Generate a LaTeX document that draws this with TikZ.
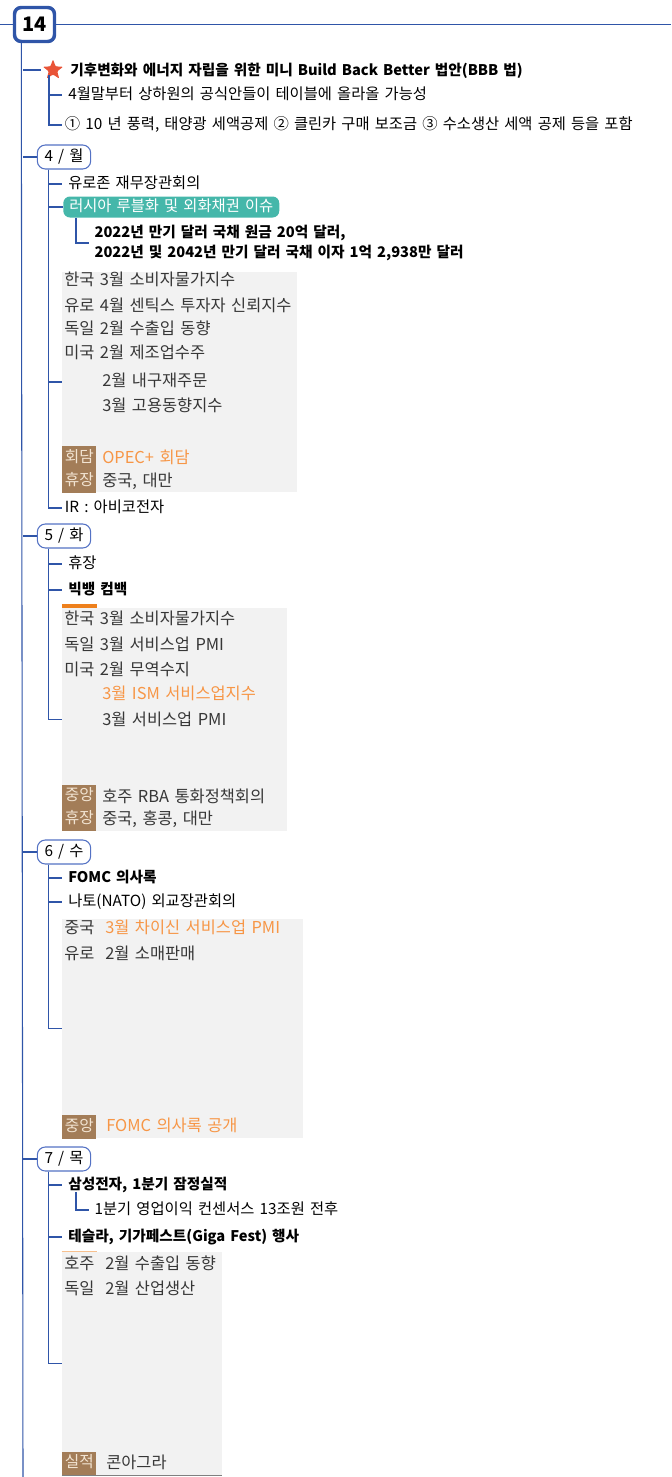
\documentclass[tikz,border=0pt]{standalone}
\usepackage{fontspec}
\setmainfont{Noto Sans CJK KR}[WordSpace=1.5]
\usetikzlibrary{shapes.geometric,fit}

\definecolor{treeblue}{RGB}{47,85,168}
\definecolor{daybd}{RGB}{84,114,196}
\definecolor{issueteal}{RGB}{69,183,170}
\definecolor{memogray}{RGB}{242,242,242}
\definecolor{memotext}{RGB}{55,55,55}
\definecolor{tagbrown}{RGB}{163,125,88}
\definecolor{tagtext}{RGB}{242,228,210}
\definecolor{hotorange}{RGB}{247,150,70}
\definecolor{barorange}{RGB}{238,128,28}
\definecolor{starred}{RGB}{233,84,56}

\begin{document}
\begin{tikzpicture}[x=0.75pt, y=-0.75pt,
		every node/.style={font=\fontsize{11.5}{14}\selectfont, inner sep=0pt},
		branch/.style={draw=treeblue, line width=0.8pt},
		item/.style={anchor=west, inner xsep=4.5pt, text height=0.8em, text depth=0.2em},
		key/.style={item, font=\fontsize{11}{14}\selectfont\bfseries},
		root/.style={draw=treeblue, line width=2.6pt, rounded corners=5pt, fill=white, minimum width=30pt, minimum height=25.5pt, font=\fontsize{15}{18}\selectfont\bfseries},
		day/.style={draw=daybd, line width=0.8pt, rounded corners=6pt, fill=white, minimum width=40pt, minimum height=18pt, text height=0.8em, text depth=0.2em},
		issue/.style={item, fill=issueteal, text=white, rounded corners=5pt, minimum width=161pt, minimum height=15.75pt},
		memo/.style={fill=memogray, inner sep=0pt},
		line/.style={anchor=west, text=memotext, font=\fontsize{12.3}{14}\selectfont, text height=0.8em, text depth=0.2em},
		hot/.style={line, text=hotorange},
		tag/.style={anchor=west, fill=tagbrown, text=tagtext, font=\fontsize{11.8}{14}\selectfont, minimum width=25.5pt, minimum height=17.6pt, text height=0.8em, text depth=0.2em}
		]
		\useasboundingbox (0,0) rectangle (671,1477);
		
		% Draw Root
		\coordinate (hl) at (0,24.5);
		\coordinate (hr) at (671,24.5);
		\coordinate (trunkend) at (23,1477);
		\draw[branch] (hl) -- (hr);
		\node[root] (root) at (34.5,24.5) {14};
		\draw[branch] ([xshift=6.4pt]root.south west) -- (trunkend);
		
		% Draw Headline Item
		\node[star, star points=5, star point ratio=2.4, fill=starred, rounded corners=0.8pt, minimum size=16pt] (star) at (53,70) {};
		\node[key, inner xsep=0pt] (bbb) at (70,71) {기후변화와 에너지 자립을 위한 미니 Build Back Better 법안(BBB 법)};
		\node[item] (s1) at (62,95) {4월말부터 상하원의 공식안들이 테이블에 올라올 가능성};
		\node[item, inner xsep=2pt] (s2) at (62,125) {① 10 년 풍력, 태양광 세액공제 ② 클린카 구매 보조금 ③ 수소생산 세액 공제 등을 포함};
		\draw[branch] (trunkend |- star) -- ([xshift=-4pt]star.west);
		\foreach \x in {s1, s2} {
			\draw[branch] ([xshift=-3pt]star.south) |- (\x.west);
		}
		
		% Draw Day Boxes
		\node[day] (d4) at (64,157) {4 / 월};
		\node[day] (d5) at (64,536) {5 / 화};
		\node[day] (d6) at (64,852) {6 / 수};
		\node[day] (d7) at (64,1159) {7 / 목};
		\foreach \x in {d4, d5, d6, d7} {
			\draw[branch] (trunkend |- \x.west) -- (\x.west);
		}
		
		% Draw Monday
		\node[item] (euro) at (62,184) {유로존 재무장관회의};
		\node[issue] (rub) at (63,207) {러시아 루블화 및 외화채권 이슈};
		\node[font=\fontsize{11}{15}\selectfont\bfseries, align=left, anchor=west, inner xsep=4pt] (bond) at (89,243) {2022년 만기 달러 국채 원금 20억 달러,\\2022년 및 2042년 만기 달러 국채 이자 1억 2,938만 달러};
		\draw[branch] ([xshift=9.75pt]rub.south west) |- (bond.west);
		\node[memo, fit={(62,272) (297,492)}] (m4) {};
		\node[line] (m4a) at (64,281) {한국 3월 소비자물가지수};
		\node[line] (m4b) at (64,307) {유로 4월 센틱스 투자자 신뢰지수};
		\node[line] (m4c) at (64,330) {독일 2월 수출입 동향};
		\node[line] (m4d) at (64,354) {미국 2월 제조업수주};
		\node[line] (m4e) at (102,382) {2월 내구재주문};
		\node[line] (m4f) at (102,407) {3월 고용동향지수};
		\node[tag] (m4t1) at (62,458) {회담};
		\node[hot] (m4g) at (102,459) {OPEC+ 회담};
		\node[tag] (m4t2) at (62,481.5) {휴장};
		\node[line] (m4h) at (102,482) {중국, 대만};
		\node[item, inner xsep=2pt] (ir) at (62,508) {IR : 아비코전자};
		\foreach \x in {euro, rub, m4, ir} {
			\draw[branch] ([xshift=9pt]d4.south west) |- (\x.west);
		}
		
		% Draw Tuesday
		\node[item] (rest) at (62,564) {휴장};
		\node[key] (bang) at (62,590) {빅뱅 컴백};
		\node[memo, fit={(62,608) (287,831)}] (m5) {};
		\fill[barorange] (m5.north west) rectangle ++(35,-4);
		\node[line] (m5a) at (64,620) {한국 3월 소비자물가지수};
		\node[line] (m5b) at (64,646) {독일 3월 서비스업 PMI};
		\node[line] (m5c) at (64,671) {미국 2월 무역수지};
		\node[hot] (m5d) at (102,695) {3월 ISM 서비스업지수};
		\node[line] (m5e) at (102,721) {3월 서비스업 PMI};
		\node[tag] (m5t1) at (62,796.5) {중앙};
		\node[line] (m5f) at (102,798) {호주 RBA 통화정책회의};
		\node[tag] (m5t2) at (62,819.5) {휴장};
		\node[line] (m5g) at (102,820) {중국, 홍콩, 대만};
		\foreach \x in {rest, bang, m5} {
			\draw[branch] ([xshift=9pt]d5.south west) |- (\x.west);
		}
		
		% Draw Wednesday
		\node[key] (fomc) at (62,878) {FOMC 의사록};
		\node[item] (nato) at (62,902) {나토(NATO) 외교장관회의};
		\node[memo, fit={(62,919) (303,1138)}] (m6) {};
		\node[line] (m6a) at (64,929) {중국};
		\node[hot] (m6b) at (105,929) {3월 차이신 서비스업 PMI};
		\node[line] (m6c) at (64,955) {유로};
		\node[line] (m6d) at (105,955) {2월 소매판매};
		\node[tag] (m6t1) at (62,1127) {중앙};
		\node[hot] (m6e) at (106,1127) {FOMC 의사록 공개};
		\foreach \x in {fomc, nato, m6} {
			\draw[branch] ([xshift=9pt]d6.south west) |- (\x.west);
		}
		
		% Draw Thursday
		\node[key] (sam) at (62,1185) {삼성전자, 1분기 잠정실적};
		\node[item, inner xsep=4pt] (cons) at (89,1210) {1분기 영업이익 컨센서스 13조원 전후};
		\draw[branch] ([xshift=10.5pt]sam.south west) |- (cons.west);
		\node[key] (tesla) at (62,1237) {테슬라, 기가페스트(Giga Fest) 행사};
		\node[memo, fit={(62,1252) (222,1475)}] (m7) {};
		\draw[barorange!50, line width=0.6pt] (m7.north west) -- ++(35,0);
		\draw[gray, line width=0.8pt] (m7.south west) -- (m7.south east);
		\node[line] (m7a) at (64,1265) {호주};
		\node[line] (m7b) at (105,1265) {2월 수출입 동향};
		\node[line] (m7c) at (64,1290) {독일};
		\node[line] (m7d) at (105,1290) {2월 산업생산};
		\node[tag] (m7t1) at (62,1463.5) {실적};
		\node[line] (m7e) at (106,1464) {콘아그라};
		\foreach \x in {sam, tesla, m7} {
			\draw[branch] ([xshift=9pt]d7.south west) |- (\x.west);
		}
		
	\end{tikzpicture}
\end{document}
